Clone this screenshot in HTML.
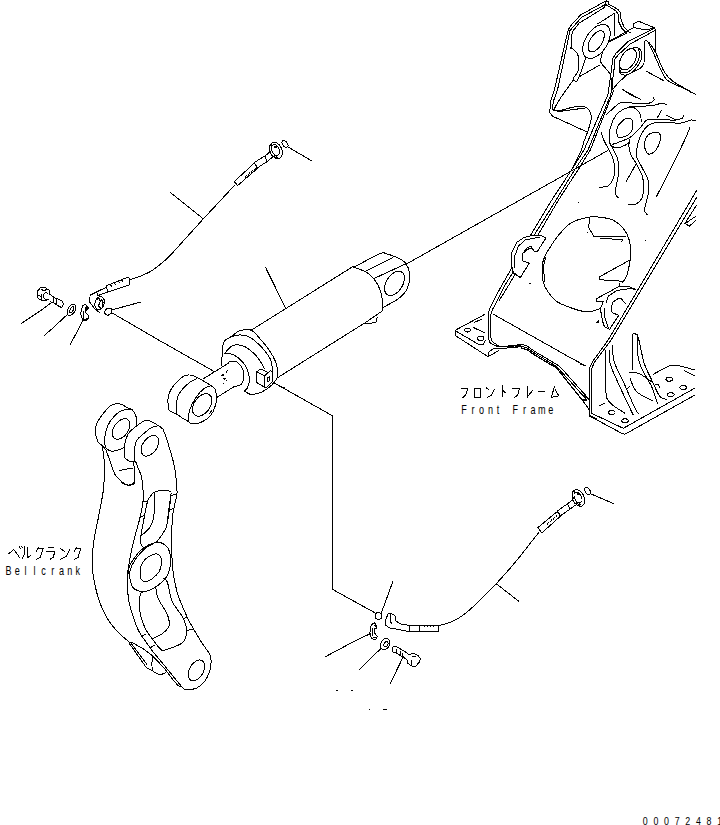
<!DOCTYPE html>
<html><head><meta charset="utf-8"><style>
html,body{margin:0;padding:0;background:#fff;width:720px;height:825px;overflow:hidden}
svg{display:block}
.t{font-family:"Liberation Mono",monospace;fill:#000}
</style></head><body>
<svg width="720" height="825" viewBox="0 0 720 825">
<g fill="none" stroke="#000" stroke-width="1" stroke-linejoin="round" stroke-linecap="round" shape-rendering="crispEdges">
<path d="M584.6,140 L587.5,132.2 L552.6,116.2 L549.7,112.3 L550.7,100.7 L554.4,90 L566.7,36 L568.3,29.4 L572.2,23.9 L580.6,15 L606.1,0.8 L608.9,1.7 L608.3,3.9 L617.8,9.4 L620,12.2 L621.1,20 L623.9,26.7 L627.8,31.1 L631,33"/>
<path d="M553.6,100.7 L552.1,109.4 L554.5,110.4 M553.6,100.7 L557.5,90 L568.9,36 L570,30.5 L581.7,17.2 L605.6,4.4 L606.1,0.8 M605.6,4.4 L616.1,11.1 L618.3,14.4 L618.9,22.2 L622.2,28.9 L626.7,33.3"/>
<path d="M571,49 L571.1,36.7 L573,31 L578.9,23.3 L603.9,7.8 L605.6,4.4"/>
<path d="M571.00,49.00 C571.00,48.75 569.92,46.71 571.00,47.50 C572.08,48.29 576.21,51.25 577.50,53.75 C578.79,56.25 578.62,59.67 578.75,62.50 C578.88,65.33 579.19,68.05 578.30,70.70 C577.41,73.35 573.97,76.72 573.40,78.40 C572.83,80.08 574.17,80.63 574.90,80.80 C575.63,80.97 576.12,82.87 577.80,79.40 C579.48,75.93 583.80,63.73 585.00,60.00 C586.20,56.27 585.00,57.50 585.00,57.00"/>
<path d="M573.00,80.30 C569.92,85.15 554.35,104.95 554.50,109.40 C554.65,113.85 569.05,107.48 573.90,107.00 C578.75,106.52 581.17,106.10 583.60,106.50 C586.03,106.90 587.20,107.78 588.50,109.40 C589.80,111.02 591.08,113.93 591.40,116.20 C591.72,118.47 591.05,120.33 590.40,123.00 C589.75,125.67 587.98,130.67 587.50,132.20"/>
<path d="M557.9,111.8 L584.6,108"/>
<path d="M578.8,77 L599.1,65.3"/>
<path d="M597.8,23.9 L614.4,13.3 L615,35.6"/>
<path d="M605.64,47.34 A10.90,19.00 33.0 1 1 587.36,35.46 A10.90,19.00 33.0 1 1 605.64,47.34 Z"/>
<path d="M601.29,44.48 A6.00,12.00 32.0 1 1 591.11,38.12 A6.00,12.00 32.0 1 1 601.29,44.48 Z"/>
<path d="M608.9,42.2 L626.7,33.3"/>
<path d="M602.50,52.50 C602.25,54.17 599.75,58.92 601.00,62.50 C602.25,66.08 608.08,69.42 610.00,74.00 C611.92,78.58 612.08,87.33 612.50,90.00"/>
<path d="M608.75,41.5 L619.4,35.7 L633.75,27.5 L633.75,23.75 L638.75,21.25 L655,28 L655.4,52.2"/>
<path d="M633.75,27.5 L645.7,29.9 L655,28"/>
<path d="M607.8,95 L611.7,68.75 L612.6,59 L615.6,53.7 L628.2,41.5 L654,28.4"/>
<path d="M610.7,95 L614.1,68.75 L615,59 L618,55.1 L630.1,44 L654.4,30.8"/>
<path d="M644.20,62.00 C644.28,58.75 644.13,45.92 644.70,42.50 C645.27,39.08 646.62,41.18 647.60,41.50 C648.58,41.82 649.20,42.45 650.60,44.40 C652.00,46.35 653.73,48.65 656.00,53.20 C658.27,57.75 661.45,67.07 664.20,71.70 C666.95,76.33 668.87,78.12 672.50,81.00 C676.13,83.88 682.75,87.00 686.00,89.00 C689.25,91.00 691.00,92.33 692.00,93.00"/>
<path d="M648.60,43.50 C649.57,45.43 651.97,49.92 654.40,55.10 C656.83,60.28 660.77,70.22 663.20,74.60 C665.63,78.98 664.95,78.83 669.00,81.40 C673.05,83.97 683.07,87.83 687.50,90.00 C691.93,92.17 694.25,93.67 695.60,94.40"/>
<path d="M646.2,71.2 L663.2,80.4"/>
<path d="M643.75,63.90 C643.26,64.55 642.42,66.50 640.80,67.80 C639.17,69.10 636.43,70.40 634.00,71.70 C631.57,73.00 629.03,73.50 626.20,75.60 C623.37,77.70 619.10,82.20 617.00,84.30 C614.90,86.40 614.17,87.55 613.60,88.20"/>
<path d="M622.4,89.2 L631.1,95"/>
<path d="M633.00,47.30 C633.83,47.42 636.67,47.38 638.00,48.00 C639.33,48.62 640.33,49.67 641.00,51.00 C641.67,52.33 642.17,54.17 642.00,56.00 C641.83,57.83 641.08,59.83 640.00,62.00 C638.92,64.17 637.00,67.17 635.50,69.00 C634.00,70.83 632.58,72.00 631.00,73.00 C629.42,74.00 627.50,74.75 626.00,75.00 C624.50,75.25 623.00,74.92 622.00,74.50 C621.00,74.08 620.42,73.58 620.00,72.50 C619.58,71.42 619.58,68.75 619.50,68.00"/>
<path d="M633.00,47.50 C633.75,47.50 636.50,46.92 637.50,47.50 C638.50,48.08 638.75,49.25 639.00,51.00 C639.25,52.75 639.33,56.00 639.00,58.00 C638.67,60.00 638.00,61.33 637.00,63.00 C636.00,64.67 634.50,66.50 633.00,68.00 C631.50,69.50 629.83,71.25 628.00,72.00 C626.17,72.75 623.33,72.83 622.00,72.50 C620.67,72.17 620.33,70.42 620.00,70.00"/>
<path d="M634.00,62.91 A7.00,11.70 31.0 1 1 622.00,55.69 A7.00,11.70 31.0 1 1 634.00,62.91 Z"/>
<path d="M607.8,95 L584,150 L572,169.2 L551.8,200 L530.9,234.7"/>
<path d="M610.7,95 L588,150 L575,169.2 L556.1,200 L534.5,234.7"/>
<path d="M613.9,90 L590.3,150 L578.5,169.2 L558.5,200 L538.2,234.7"/>
<path d="M587.5,132.2 L583.9,141.7 L581.5,150 L572,169.2"/>
<path d="M601.00,132.00 C601.46,133.33 601.77,135.62 603.75,140.00 C605.73,144.38 611.12,153.20 612.90,158.30 C614.67,163.40 614.40,167.03 614.40,170.60 C614.40,174.17 613.92,177.17 612.90,179.70 C611.88,182.23 610.58,184.52 608.30,185.80 C606.02,187.08 600.72,187.13 599.20,187.40"/>
<path d="M609.40,142.20 C610.75,144.88 615.90,153.57 617.50,158.30 C619.10,163.03 619.25,165.75 619.00,170.60 C618.75,175.45 616.63,183.58 616.00,187.40 C615.37,191.22 614.82,191.73 615.20,193.50 C615.58,195.27 617.78,197.25 618.30,198.00"/>
<path d="M606.70,114.40 C608.55,112.73 615.03,106.33 617.80,104.40 C620.57,102.47 618.30,102.98 623.30,102.80 C628.30,102.62 642.70,103.77 647.80,103.30 C652.90,102.83 652.98,101.02 653.90,100.00 C654.82,98.98 653.40,97.67 653.30,97.20"/>
<path d="M629.40,106.70 C633.20,106.52 646.92,106.17 652.20,105.60 C657.48,105.03 658.68,103.50 661.10,103.30 C663.52,103.10 665.77,104.22 666.70,104.40"/>
<path d="M623.3,90 L640.6,99.4"/>
<path d="M630,94.4 L640.6,99.4"/>
<path d="M609.40,142.20 C609.50,139.98 608.97,133.33 610.00,128.90 C611.03,124.47 613.38,118.85 615.60,115.60 C617.82,112.35 620.72,110.80 623.30,109.40 C625.88,108.00 628.87,107.20 631.10,107.20 C633.33,107.20 635.12,108.00 636.70,109.40 C638.28,110.80 639.87,113.47 640.60,115.60 C641.33,117.73 641.02,121.10 641.10,122.20"/>
<path d="M609.40,142.20 C609.68,142.77 609.88,144.67 611.10,145.60 C612.32,146.53 614.48,147.80 616.70,147.80 C618.92,147.80 622.28,146.53 624.40,145.60 C626.52,144.67 628.57,142.77 629.40,142.20"/>
<path d="M617.80,136.70 C616.60,135.22 616.65,130.22 617.20,127.80 C617.75,125.38 619.52,123.78 621.10,122.20 C622.68,120.62 624.93,118.77 626.70,118.30 C628.47,117.83 630.68,118.18 631.70,119.40 C632.72,120.62 632.90,123.47 632.80,125.60 C632.70,127.73 632.50,130.35 631.10,132.20 C629.70,134.05 626.62,135.95 624.40,136.70 C622.18,137.45 619.00,138.18 617.80,136.70 Z"/>
<path d="M612.20,144.40 C613.32,144.03 615.75,143.48 618.90,142.20 C622.05,140.92 627.40,139.28 631.10,136.70 C634.80,134.12 638.50,129.48 641.10,126.70 C643.70,123.92 644.48,121.22 646.70,120.00 C648.92,118.78 650.52,119.40 654.40,119.40 C658.28,119.40 666.40,119.90 670.00,120.00 C673.60,120.10 673.92,120.33 676.00,120.00 C678.08,119.67 681.33,118.83 682.50,118.00 C683.67,117.17 682.92,115.50 683.00,115.00"/>
<path d="M666,115 L676,120"/>
<path d="M630.00,139.00 C629.82,140.28 628.69,143.98 628.90,146.70 C629.11,149.42 630.10,152.60 631.25,155.30 C632.40,158.00 634.01,159.60 635.80,162.90 C637.59,166.20 640.72,171.28 642.00,175.10 C643.28,178.92 643.50,181.98 643.50,185.80 C643.50,189.62 643.28,194.93 642.00,198.00 C640.72,201.07 638.10,203.17 635.80,204.20 C633.50,205.23 629.47,204.20 628.20,204.20"/>
<path d="M647.30,214.90 C646.78,214.13 644.45,212.08 644.20,210.30 C643.95,208.52 645.03,207.52 645.80,204.20 C646.57,200.88 648.43,194.48 648.80,190.40 C649.17,186.32 649.13,183.52 648.00,179.70 C646.87,175.88 643.90,171.32 642.00,167.50 C640.10,163.68 637.48,159.72 636.60,156.80 C635.72,153.88 636.32,152.80 636.70,150.00 C637.08,147.20 637.42,143.70 638.90,140.00 C640.38,136.30 643.02,130.67 645.60,127.80 C648.18,124.93 650.33,123.63 654.40,122.80 C658.47,121.97 665.57,122.77 670.00,122.80 C674.43,122.83 677.50,123.47 681.00,123.00 C684.50,122.53 688.57,120.33 691.00,120.00 C693.43,119.67 694.83,120.83 695.60,121.00"/>
<path d="M630,175 L636,164"/>
<path d="M646.50,152.50 C645.50,150.67 644.25,145.92 644.50,143.00 C644.75,140.08 646.42,136.75 648.00,135.00 C649.58,133.25 652.08,132.75 654.00,132.50 C655.92,132.25 658.50,132.08 659.50,133.50 C660.50,134.92 660.58,138.25 660.00,141.00 C659.42,143.75 657.58,147.83 656.00,150.00 C654.42,152.17 652.08,153.58 650.50,154.00 C648.92,154.42 647.50,154.33 646.50,152.50 Z"/>
<path d="M657.2,117.8 L661.7,110"/>
<path d="M690.00,127.50 C689.12,129.58 688.03,132.92 684.70,140.00 C681.37,147.08 674.70,160.58 670.00,170.00 C665.30,179.42 658.75,192.08 656.50,196.50"/>
<path d="M687.5,90 L695.6,94.4"/>
<path d="M511.8,265.5 L511.8,252.1 L516.7,242.4 L523.9,237.6 L531.2,235.8 L540.9,235.2 L545.8,238.2 L537.3,251.5 L534.8,252.1 L531.2,246.7 L527.6,247.3 L522.1,254.5 L522.1,260.6 L529.4,263 L520.3,277.6 L513,272.7 L511.8,265.5"/>
<path d="M514.2,267.9 L514.8,255.8 L518.5,246.1 L525.2,240 L539.7,237"/>
<path d="M524,253 L529,248.5 L532,249"/>
<path d="M511.80,267.90 C510.17,270.75 505.13,279.32 502.00,285.00 C498.87,290.68 495.23,297.50 493.00,302.00 C490.77,306.50 489.37,308.17 488.60,312.00 C487.83,315.83 488.40,320.67 488.40,325.00 C488.40,329.33 488.33,335.08 488.60,338.00 C488.87,340.92 489.27,341.40 490.00,342.50 C490.73,343.60 491.63,343.90 493.00,344.60 C494.37,345.30 497.33,346.35 498.20,346.70"/>
<path d="M513.60,271.50 C512.00,274.08 506.93,281.75 504.00,287.00 C501.07,292.25 498.13,298.67 496.00,303.00 C493.87,307.33 492.07,309.33 491.20,313.00 C490.33,316.67 490.83,320.83 490.80,325.00 C490.77,329.17 490.72,335.25 491.00,338.00 C491.28,340.75 491.83,340.58 492.50,341.50 C493.17,342.42 493.88,342.70 495.00,343.50 C496.12,344.30 498.50,345.83 499.20,346.30"/>
<path d="M516,273 L507,288 L499.5,300"/><path d="M582.2,400 L588.9,408.9 L590,415.6 L596.7,418.9"/>
<path d="M485,314.2 L455.8,330 L455.8,335.8 L488,356.7 L488.8,352.2 L493.6,348.4 L499.9,348.4 M488,356.7 L498.5,350.8"/>
<path d="M456.5,331.5 L478.3,344.2 L483.3,344.2 L485.8,340"/>
<path d="M470.50,330.00 A3.00,2.00 0.0 1 1 464.50,330.00 A3.00,2.00 0.0 1 1 470.50,330.00 Z"/>
<path d="M484.00,338.30 A3.20,2.30 0.0 1 1 477.60,338.30 A3.20,2.30 0.0 1 1 484.00,338.30 Z"/>
<path d="M473.3,327.5 L484.2,332.5 M474.2,322.5 L481.7,319.2"/>
<path d="M498.2,346.7 L505.4,346.3 L515.2,345.3 L521.4,344.2 L526.3,345.6 L536,352.2 L556.7,364.4 L560,366.7 L587.8,397.8 L588.9,400"/>
<path d="M499.9,348.4 L506.8,348 L515.9,347.4 L521.4,346.3 L527,348 L536,354 L553.3,364.4 L557.8,367.8 L585.6,398.3"/>
<path d="M521.4,348 L527.7,350.1 L534.6,355 L552.2,365.6 L555.6,366.7 L582.2,400 L586.7,400 M507,346.8 L513.5,346.4 M516,346.2 L520,345.5" stroke-width="1.2"/>
<path d="M493.3,314.2 L570,357.5 L586,366"/>
<path d="M600.40,308.40 C598.46,308.97 592.57,311.53 588.75,311.80 C584.93,312.07 582.71,311.63 577.50,310.00 C572.29,308.37 562.38,304.98 557.50,302.00 C552.62,299.02 550.57,295.37 548.20,292.10 C545.83,288.83 544.32,286.63 543.30,282.40 C542.28,278.17 541.90,270.93 542.10,266.70 C542.30,262.47 543.35,259.95 544.50,257.00 C545.65,254.05 546.78,252.48 549.00,249.00 C551.22,245.52 554.15,240.43 557.80,236.10 C561.45,231.77 565.82,226.15 570.90,223.00 C575.98,219.85 583.45,218.17 588.30,217.20 C593.15,216.23 595.88,216.72 600.00,217.20 C604.12,217.68 609.12,218.25 613.00,220.10 C616.88,221.95 620.60,224.98 623.30,228.30 C626.00,231.62 627.95,235.55 629.20,240.00 C630.45,244.45 630.95,250.00 630.80,255.00 C630.65,260.00 628.98,266.53 628.30,270.00 C627.62,273.47 627.53,273.85 626.70,275.80 C625.87,277.75 623.87,280.72 623.30,281.70"/>
<path d="M545.50,258.00 C545.18,259.50 543.72,263.00 543.60,267.00 C543.48,271.00 544.60,279.50 544.80,282.00"/>
<path d="M589.5,218 L588.75,227.5 L593.75,236.25 L600,236.7 L625.8,236.7"/>
<path d="M600,238.5 L623,239.5"/>
<path d="M621,242 L623,240.5"/>
<path d="M612,270 L599.4,276.8 L599.4,279.7 L621.8,281.2 L622.8,282.2"/>
<path d="M599.4,276.8 L630,260"/>
<path d="M587.5,232.5 L587.8,232.8 M578.75,202.5 L579,202.8 M530,283.6 L530.3,283.9 M645.8,240.8 L646,241 M596.5,322.5 L598.5,320.8 L598.2,322.8 Z"/>
<path d="M619.9,283.6 L619.9,286 L596.5,298.7 L596.5,301.6 L603.3,301.6 L600.4,308.9 L602.4,320.6 L604.3,326.4 L609.2,329.3"/>
<path d="M619.9,286 L627.6,286 L635.4,289.4"/>
<path d="M606.2,302.1 L608.2,296.2 L616.9,290.4 L630.6,288.5 L635,289.5"/>
<path d="M604.8,308.9 L604.3,315.7 L608.2,327.4"/>
<path d="M625.7,304 L620.8,298.2 L617.9,298.7 L613.1,302.1 L611.1,306.9 L612.1,312.8 L618.9,315.2 L610.1,328.3"/>
<path d="M696.7,190.4 L608.2,340 L592.5,361.7 L589.2,368.3 L589.2,415.8 L621.7,433.3 L625,434.2 L695,395"/>
<path d="M696.7,197.5 L611.1,340 L594,363 L591.7,369 L591.7,413.3 L623.3,428.3 L695,388"/>
<path d="M696.7,205 L685,223.3 L689.2,226.25 L695.8,220.4 M695.8,216.25 L686,223 L684,223.5"/>
<path d="M580,364.2 L585.8,365.8 M580,392.5 L588.3,399.2"/>
<path d="M605.80,350.00 C605.80,356.95 604.97,382.82 605.80,391.70 C606.63,400.58 607.60,399.70 610.80,403.30 C614.00,406.90 622.63,411.63 625.00,413.30"/>
<path d="M609.20,350.00 C609.33,352.22 608.48,357.75 610.00,363.30 C611.52,368.85 614.97,375.80 618.30,383.30 C621.63,390.80 627.50,403.02 630.00,408.30 C632.50,413.58 632.75,413.88 633.30,415.00"/>
<path d="M612.50,345.80 C612.78,348.45 612.40,355.72 614.20,361.70 C616.00,367.68 619.83,373.93 623.30,381.70 C626.77,389.47 632.50,403.03 635.00,408.30 C637.50,413.57 637.75,412.47 638.30,413.30"/>
<path d="M632.50,370.00 C632.50,364.45 631.95,342.67 632.50,336.70 C633.05,330.73 634.83,334.07 635.80,334.20 C636.77,334.33 636.90,332.65 638.30,337.50 C639.70,342.35 641.97,356.22 644.20,363.30 C646.43,370.38 649.07,374.43 651.70,380.00 C654.33,385.57 657.50,393.50 660.00,396.70 C662.50,399.90 665.58,398.78 666.70,399.20"/>
<path d="M637.00,336.00 C637.22,339.72 637.25,352.35 638.30,358.30 C639.35,364.25 641.07,366.97 643.30,371.70 C645.53,376.43 649.33,381.43 651.70,386.70 C654.07,391.97 656.53,400.53 657.50,403.30"/>
<path d="M629.20,372.50 C630.72,372.63 635.38,372.33 638.30,373.30 C641.22,374.27 644.42,376.85 646.70,378.30 C648.98,379.75 651.12,381.38 652.00,382.00"/>
<path d="M630.00,378.30 C631.12,380.53 632.95,387.95 636.70,391.70 C640.45,395.45 649.87,399.28 652.50,400.80"/>
<path d="M627.5,388.3 L630,386.5 M599.2,405.8 L604.2,403.3"/>
<path d="M653.3,374.2 L670.8,365 L676.7,365 L695,370 M684.2,370.8 L695,375.8"/>
<path d="M615.00,412.50 A3.30,2.00 0.0 1 1 608.40,412.50 A3.30,2.00 0.0 1 1 615.00,412.50 Z"/>
<path d="M628.30,420.80 A3.30,2.00 0.0 1 1 621.70,420.80 A3.30,2.00 0.0 1 1 628.30,420.80 Z"/>
<path d="M672.50,379.20 A3.30,2.00 0.0 1 1 665.90,379.20 A3.30,2.00 0.0 1 1 672.50,379.20 Z"/>
<path d="M686.60,387.50 A3.30,2.00 0.0 1 1 680.00,387.50 A3.30,2.00 0.0 1 1 686.60,387.50 Z"/>
<path d="M674.10,394.70 A3.30,2.00 0.0 1 1 667.50,394.70 A3.30,2.00 0.0 1 1 674.10,394.70 Z"/>
<path d="M655.5,385 L658,384.5 L659.5,387"/>
<path d="M635.8,164.4 L625.9,182"/>
<path d="M250.3,330.8 L353.3,266.3"/>
<path d="M277.4,377.8 L365.8,322.3 L382.5,310.8"/>
<path d="M353.30,267.00 C355.75,268.05 363.83,270.17 368.00,273.30 C372.17,276.43 375.88,281.28 378.30,285.80 C380.72,290.32 381.80,296.23 382.50,300.40 C383.20,304.57 382.50,309.07 382.50,310.80"/>
<path d="M355.00,266.50 C359.23,264.33 375.30,255.67 380.40,253.50 C385.50,251.33 382.67,252.75 385.60,253.50 C388.53,254.25 394.70,256.42 398.00,258.00 C401.30,259.58 403.47,260.45 405.40,263.00 C407.33,265.55 409.25,269.13 409.60,273.30 C409.95,277.47 409.27,283.83 407.50,288.00 C405.73,292.17 403.17,295.02 399.00,298.30 C394.83,301.58 385.25,306.13 382.50,307.70"/>
<path d="M401.45,287.75 A8.20,13.20 32.0 1 1 387.55,279.05 A8.20,13.20 32.0 1 1 401.45,287.75 Z"/>
<path d="M365.8,271 L393,257.7 M374,278.5 L405.4,264"/>
<path d="M406.5,264 L607.2,150.8"/>
<path d="M363.75,323.3 L370,323.5 L376,322 L377.3,317"/>
<path d="M265.4,267.1 L285.7,308.3"/>
<path d="M221.80,366.00 C221.80,365.02 221.72,362.05 221.80,360.10 C221.88,358.15 222.13,356.57 222.30,354.30 C222.47,352.03 222.40,348.77 222.80,346.50 C223.20,344.23 223.08,342.48 224.70,340.70 C226.32,338.92 230.07,337.42 232.50,335.80 C234.93,334.18 236.22,331.97 239.30,331.00 C242.38,330.03 247.27,328.38 251.00,330.00 C254.73,331.62 258.63,337.30 261.70,340.70 C264.77,344.10 267.13,347.00 269.40,350.40 C271.67,353.80 273.92,357.70 275.30,361.10 C276.68,364.50 277.38,368.05 277.70,370.80 C278.02,373.55 278.08,375.33 277.20,377.60 C276.32,379.87 274.18,382.45 272.40,384.40 C270.62,386.35 268.77,387.83 266.50,389.30 C264.23,390.77 261.50,392.38 258.75,393.20 C256.00,394.02 252.43,394.68 250.00,394.20 C247.57,393.72 245.17,390.95 244.20,390.30"/>
<path d="M232.50,336.30 C233.80,336.07 237.55,334.82 240.30,334.90 C243.05,334.98 246.25,335.52 249.00,336.80 C251.75,338.08 254.37,340.50 256.80,342.60 C259.23,344.70 261.33,346.63 263.60,349.40 C265.87,352.17 268.93,355.95 270.40,359.20 C271.87,362.45 272.07,366.93 272.40,368.90 C272.73,370.87 272.40,370.65 272.40,371.00"/>
<path d="M224.70,353.30 C226.00,352.02 229.58,346.88 232.50,345.60 C235.42,344.32 239.45,344.97 242.20,345.60 C244.95,346.23 246.73,347.78 249.00,349.40 C251.27,351.02 253.85,353.18 255.80,355.30 C257.75,357.42 259.23,359.83 260.70,362.10 C262.17,364.37 263.95,367.77 264.60,368.90"/>
<path d="M224.70,353.80 C225.68,353.80 228.48,353.23 230.60,353.80 C232.72,354.37 235.13,355.50 237.40,357.20 C239.67,358.90 242.43,361.57 244.20,364.00 C245.97,366.43 247.12,369.03 248.00,371.80 C248.88,374.57 249.65,377.85 249.50,380.60 C249.35,383.35 247.98,386.53 247.10,388.30 C246.22,390.07 244.68,390.76 244.20,391.25"/>
<path d="M228.60,362.10 C229.57,361.93 232.62,360.78 234.40,361.10 C236.18,361.42 237.83,362.38 239.30,364.00 C240.77,365.62 242.47,368.37 243.20,370.80 C243.93,373.23 244.02,376.33 243.70,378.60 C243.38,380.87 242.72,383.10 241.25,384.40 C239.78,385.70 235.96,386.07 234.90,386.40"/>
<path d="M256.8,371.8 L256.8,382.5 L264.6,387.4 L264.6,375.7 L256.8,371.8 L260.7,369 L268,372.5 M264.6,375.7 L270.4,370.8 L272.4,371.8 L272.4,381.5 L266.5,387.4 L264.6,387.4"/>
<path d="M267.3,377.8 L269.5,377 L270,380.5 L268,382 L267,380 Z"/>
<path d="M273.3,382.5 L285,388.3"/>
<path d="M202.8,379.1 L228.6,363.1"/>
<path d="M217.4,397.1 L234.4,386.4"/>
<path d="M226.5,372 l0.6,-1.2 M221.8,375 l1.2,-0.6 l0.3,1 l-1.2,0.5 z M223.8,378 l0.4,1.2 l1.2,-0.5 M226.5,380.5 l0.6,-0.6 M222.8,384 l0.8,-0.4" stroke-width="1.1"/>
<path d="M168.30,406.80 C168.05,404.37 167.73,399.18 168.30,396.10 C168.87,393.02 170.15,390.73 171.70,388.30 C173.25,385.87 175.48,383.60 177.60,381.50 C179.72,379.40 182.13,376.75 184.40,375.70 C186.67,374.65 189.10,374.88 191.20,375.20 C193.30,375.52 195.07,376.70 197.00,377.60 C198.93,378.50 200.53,379.30 202.80,380.60 C205.07,381.90 208.57,383.95 210.60,385.40 C212.63,386.85 214.03,387.52 215.00,389.30 C215.97,391.08 216.23,393.83 216.40,396.10 C216.57,398.37 216.57,400.30 216.00,402.90 C215.43,405.50 214.22,409.27 213.00,411.70 C211.78,414.13 210.40,415.88 208.70,417.50 C207.00,419.12 204.58,420.43 202.80,421.40 C201.02,422.37 199.93,422.98 198.00,423.30 C196.07,423.62 192.82,423.62 191.20,423.30 C189.57,422.98 189.88,422.37 188.25,421.40 C186.62,420.43 183.18,418.63 181.40,417.50 C179.62,416.37 179.53,415.73 177.60,414.60 C175.67,413.47 171.35,412.00 169.80,410.70 C168.25,409.40 168.55,409.23 168.30,406.80 Z"/>
<path d="M176.60,413.60 C176.52,412.30 175.87,408.72 176.10,405.80 C176.33,402.88 176.95,398.85 178.00,396.10 C179.05,393.35 180.37,391.65 182.40,389.30 C184.43,386.95 187.77,383.78 190.20,382.00 C192.63,380.22 195.87,379.17 197.00,378.60"/>
<path d="M188.5,421 A10.8,23.2 28 0 1 211.6,385.9"/>
<path d="M208.75,409.49 A8.00,12.20 35.0 1 1 195.65,400.31 A8.00,12.20 35.0 1 1 208.75,409.49 Z"/>
<path d="M209.5,413.5 L212,410.5"/>
<path d="M160,340.8 L214.2,371.5"/>
<path d="M95.50,434.25 C95.60,432.79 95.37,428.21 96.10,425.50 C96.83,422.79 97.82,421.02 99.90,418.00 C101.98,414.98 106.32,409.69 108.60,407.40 C110.88,405.11 111.52,404.77 113.60,404.25 C115.68,403.73 118.91,403.73 121.10,404.25 C123.29,404.77 124.87,406.46 126.75,407.40 C128.63,408.34 130.84,408.34 132.40,409.90 C133.96,411.46 135.38,414.36 136.10,416.75 C136.82,419.14 136.64,423.00 136.75,424.25"/>
<path d="M124.90,446.75 C124.17,447.17 122.69,448.52 120.50,449.25 C118.31,449.98 114.25,451.52 111.75,451.10 C109.25,450.68 106.54,449.77 105.50,446.75 C104.46,443.73 104.77,437.17 105.50,433.00 C106.23,428.83 107.61,425.29 109.90,421.75 C112.19,418.21 116.23,413.83 119.25,411.75 C122.27,409.67 125.81,409.56 128.00,409.25 C130.19,408.94 131.67,409.79 132.40,409.90"/>
<path d="M127.00,433.13 A7.20,11.50 35.0 1 1 115.20,424.87 A7.20,11.50 35.0 1 1 127.00,433.13 Z"/>
<path d="M95.50,434.25 C95.92,435.50 96.96,439.88 98.00,441.75 C99.04,443.62 100.92,444.04 101.75,445.50 C102.58,446.96 102.58,447.58 103.00,450.50 C103.42,453.42 104.15,456.75 104.25,463.00 C104.35,469.25 104.49,479.35 103.60,488.00 C102.71,496.65 100.53,506.07 98.90,514.90 C97.27,523.73 94.88,533.73 93.80,541.00 C92.72,548.27 92.52,552.92 92.40,558.50 C92.28,564.08 92.02,567.58 93.10,574.50 C94.18,581.42 96.58,592.75 98.90,600.00 C101.22,607.25 104.55,613.47 107.00,618.00 C109.45,622.53 111.27,624.37 113.60,627.20 C115.93,630.03 118.42,632.53 121.00,635.00 C123.58,637.47 127.75,640.83 129.10,642.00"/>
<path d="M101.75,445.50 C102.47,446.33 104.02,445.92 106.10,450.50 C108.18,455.08 112.27,468.42 114.25,473.00 C116.23,477.58 116.12,476.12 118.00,478.00 C119.88,479.88 123.21,483.10 125.50,484.25 C127.79,485.40 130.18,485.52 131.75,484.90 C133.32,484.27 134.59,484.36 134.90,480.50 C135.21,476.64 133.82,464.88 133.60,461.75"/>
<path d="M119.25,470.5 L133,468"/>
<path d="M120.70,480.00 C120.95,480.48 120.87,482.05 122.20,482.90 C123.53,483.75 126.77,485.10 128.70,485.10 C130.63,485.10 132.83,483.75 133.80,482.90 C134.77,482.05 134.38,480.48 134.50,480.00"/>
<path d="M124.90,458.00 C124.79,456.33 123.73,451.96 124.25,448.00 C124.77,444.04 126.12,437.79 128.00,434.25 C129.88,430.71 132.58,429.04 135.50,426.75 C138.42,424.46 142.79,421.33 145.50,420.50 C148.21,419.67 149.67,420.92 151.75,421.75 C153.83,422.58 156.12,424.25 158.00,425.50 C159.88,426.75 162.17,428.62 163.00,429.25"/>
<path d="M134.25,460.50 C134.25,458.83 133.83,453.83 134.25,450.50 C134.67,447.17 135.29,443.21 136.75,440.50 C138.21,437.79 140.50,436.43 143.00,434.25 C145.50,432.07 149.04,428.76 151.75,427.40 C154.46,426.04 157.38,425.79 159.25,426.10 C161.12,426.41 162.38,428.73 163.00,429.25"/>
<path d="M155.80,449.93 A7.20,11.50 35.0 1 1 144.00,441.67 A7.20,11.50 35.0 1 1 155.80,449.93 Z"/>
<path d="M163.00,429.25 C163.62,430.92 165.08,434.04 166.75,439.25 C168.42,444.46 171.54,454.88 173.00,460.50 C174.46,466.12 174.88,468.42 175.50,473.00 C176.12,477.58 176.55,484.17 176.75,488.00 C176.95,491.83 177.44,490.80 176.70,496.00 C175.96,501.20 173.03,507.82 172.30,519.20 C171.57,530.58 171.57,552.42 172.30,564.30 C173.03,576.18 175.33,584.27 176.70,590.50 C178.07,596.73 178.72,597.18 180.50,601.70 C182.28,606.22 185.20,612.98 187.40,617.60 C189.60,622.22 191.38,625.35 193.70,629.40 C196.02,633.45 198.63,637.73 201.30,641.90 C203.97,646.07 208.07,651.15 209.70,654.40 C211.33,657.65 211.10,658.62 211.10,661.40 C211.10,664.18 210.87,667.63 209.70,671.10 C208.53,674.57 206.42,679.30 204.10,682.20 C201.78,685.10 198.82,687.22 195.80,688.50 C192.78,689.78 187.63,689.67 186.00,689.90"/>
<path d="M124.90,458.00 C125.83,458.62 128.73,461.12 130.50,461.75 C132.27,462.38 134.25,460.71 135.50,461.75 C136.75,462.79 136.96,465.29 138.00,468.00 C139.04,470.71 140.88,472.85 141.75,478.00 C142.62,483.15 143.44,492.52 143.20,498.90 C142.96,505.28 141.75,509.77 140.30,516.30 C138.85,522.83 136.18,531.32 134.50,538.10 C132.82,544.88 131.42,550.22 130.20,557.00 C128.98,563.78 127.45,571.63 127.20,578.80 C126.95,585.97 127.92,594.33 128.70,600.00 C129.48,605.67 130.27,607.70 131.90,612.80 C133.53,617.90 136.38,626.07 138.50,630.60 C140.62,635.13 142.32,636.65 144.60,640.00 C146.88,643.35 149.80,647.53 152.20,650.70 C154.60,653.87 156.70,656.20 159.00,659.00 C161.30,661.80 162.42,663.15 166.00,667.50 C169.58,671.85 177.20,681.40 180.50,685.10 C183.80,688.80 183.25,689.13 185.80,689.70 C188.35,690.27 194.13,688.70 195.80,688.50"/>
<path d="M156.30,542.50 C157.52,540.80 161.78,535.45 163.60,532.30 C165.42,529.15 166.00,529.65 167.20,523.60 C168.40,517.55 170.32,501.33 170.80,496.00 C171.28,490.67 171.30,492.57 170.10,491.60 C168.90,490.63 166.27,490.07 163.60,490.20 C160.93,490.33 156.40,491.20 154.10,492.40 C151.80,493.60 150.88,495.95 149.80,497.40 C148.72,498.85 148.57,497.58 147.60,501.10 C146.63,504.62 145.10,512.82 144.00,518.50 C142.90,524.18 141.50,530.95 141.00,535.20 C140.50,539.45 140.50,541.93 141.00,544.00 C141.50,546.07 143.50,547.00 144.00,547.60"/>
<path d="M154.10,492.40 C154.10,495.90 154.70,507.72 154.10,513.40 C153.50,519.08 152.55,522.87 150.50,526.50 C148.45,530.13 143.25,533.75 141.80,535.20"/>
<path d="M170.80,496.00 C170.45,498.42 169.30,505.90 168.70,510.50 C168.10,515.10 167.45,521.42 167.20,523.60"/>
<path d="M142.5,501.8 L147.6,501.1 M140.3,517 L144.7,515.6 M171,495.3 L176,494.6 M168.7,510.5 L173,508.5"/>
<path d="M131.60,584.70 C130.63,581.55 128.45,574.23 128.70,570.10 C128.95,565.97 130.68,563.53 133.10,559.90 C135.52,556.27 139.33,551.20 143.20,548.30 C147.07,545.40 152.67,543.10 156.30,542.50 C159.93,541.90 162.82,543.25 165.00,544.70 C167.18,546.15 168.43,548.42 169.40,551.20 C170.37,553.98 171.05,557.52 170.80,561.40 C170.55,565.28 169.58,570.87 167.90,574.50 C166.22,578.13 163.35,580.78 160.70,583.20 C158.05,585.62 154.92,587.55 152.00,589.00 C149.08,590.45 146.12,591.90 143.20,591.90 C140.28,591.90 136.43,590.20 134.50,589.00 C132.57,587.80 132.57,587.85 131.60,584.70 Z"/>
<path d="M130.20,581.70 C130.20,579.77 129.23,573.97 130.20,570.10 C131.17,566.23 133.35,562.25 136.00,558.50 C138.65,554.75 143.20,550.02 146.10,547.60 C149.00,545.18 152.18,544.60 153.40,544.00"/>
<path d="M141.00,578.80 C140.15,577.60 140.30,576.67 140.30,574.50 C140.30,572.33 140.03,568.47 141.00,565.80 C141.97,563.13 143.78,560.45 146.10,558.50 C148.42,556.55 152.60,554.58 154.90,554.10 C157.20,553.62 158.82,554.15 159.90,555.60 C160.98,557.05 161.52,560.13 161.40,562.80 C161.28,565.47 160.77,568.93 159.20,571.60 C157.63,574.27 154.30,577.12 152.00,578.80 C149.70,580.48 147.23,581.70 145.40,581.70 C143.57,581.70 141.85,580.00 141.00,578.80 Z"/>
<path d="M155.50,586.40 C155.97,588.48 156.45,594.50 158.30,598.90 C160.15,603.30 164.75,608.87 166.60,612.80 C168.45,616.73 169.17,619.97 169.40,622.50 C169.63,625.03 169.17,626.15 168.00,628.00 C166.83,629.85 165.05,631.80 162.40,633.60 C159.75,635.40 153.82,637.93 152.10,638.80"/>
<path d="M143.20,591.90 C142.70,592.37 140.82,592.38 140.20,594.70 C139.58,597.02 139.38,602.08 139.50,605.80 C139.62,609.52 139.85,613.07 140.90,617.00 C141.95,620.93 143.78,625.57 145.80,629.40 C147.82,633.23 150.40,636.57 153.00,640.00 C155.60,643.43 159.37,648.33 161.40,650.00 C163.43,651.67 161.78,651.12 165.20,650.00 C168.62,648.88 178.43,645.57 181.90,643.30 C185.37,641.03 185.19,638.72 186.00,636.40 C186.81,634.08 187.20,632.42 186.75,629.40 C186.30,626.38 185.04,621.87 183.30,618.30 C181.56,614.73 178.25,611.05 176.30,608.00 C174.35,604.95 173.12,604.38 171.60,600.00 C170.08,595.62 168.65,585.35 167.20,581.70 C165.75,578.05 163.62,578.70 162.90,578.10"/>
<path d="M142.4,635.4 L145.8,634.4 M150.7,647.6 L154.9,645 M183.3,618.3 L187.4,617.6 M186.75,630.5 L193.7,629.2"/>
<path d="M129.2,642.7 L132.6,642.6 L140,647 L144.6,649.7 L151.5,655 L158,661.5 L165.2,669.5 L172,678.5 L178.2,685.8 L181.25,686.6"/>
<path d="M129.2,643.2 L146.25,667.5 L152.1,670.4"/>
<path d="M131.2,643.3 L147,664.5"/>
<path d="M152.20,655.30 C152.20,657.58 151.68,666.08 152.20,669.00 C152.72,671.92 153.90,671.90 155.30,672.80 C156.70,673.70 158.95,674.40 160.60,674.40 C162.25,674.40 164.23,673.25 165.20,672.80 C166.17,672.35 166.20,671.88 166.40,671.70"/>
<path d="M202.46,673.90 A7.00,11.00 30.0 1 1 190.34,666.90 A7.00,11.00 30.0 1 1 202.46,673.90 Z"/>
<path d="M130.50,279.50 C132.42,278.83 138.57,276.90 142.00,275.50 C145.43,274.10 148.10,272.93 151.10,271.10 C154.10,269.27 157.03,266.90 160.00,264.50 C162.97,262.10 164.57,261.12 168.90,256.70 C173.23,252.28 180.27,244.30 186.00,238.00 C191.73,231.70 197.63,225.07 203.30,218.90 C208.97,212.73 214.75,206.65 220.00,201.00 C225.25,195.35 232.33,187.67 234.80,185.00"/>
<path d="M203.3,218.9 L170,192.2"/>
<path d="M234.3,181.6 L254.25,163.1 M237.7,185.5 L257.2,168.5 M234.3,181.6 L237.7,185.5"/>
<path d="M254.25,163.1 L256.5,166 L257.2,168.5"/>
<path d="M245.5,177 l1,-1.5 M248.5,174.5 l1,-1.5 M251.5,172 l1,-1.5 M254.5,170 l1,-1.5"/>
<path d="M254.25,162.6 L265,155.8 L266.9,161.7 L257.2,168"/>
<path d="M265,155.8 L270.8,151.4 M266.9,161.7 L274.7,155.3"/>
<path d="M281.34,147.96 A6.00,8.50 -25.0 1 1 270.46,153.04 A6.00,8.50 -25.0 1 1 281.34,147.96 Z"/>
<path d="M278.76,148.48 A3.60,5.50 -25.0 1 1 272.24,151.52 A3.60,5.50 -25.0 1 1 278.76,148.48 Z"/>
<path d="M286.97,142.62 A2.40,3.80 -35.0 1 1 283.03,145.38 A2.40,3.80 -35.0 1 1 286.97,142.62 Z"/>
<path d="M287.3,146.6 L311.25,160.6"/>
<path d="M438.50,625.60 C440.42,625.08 446.08,624.10 450.00,622.50 C453.92,620.90 457.83,618.92 462.00,616.00 C466.17,613.08 469.50,610.17 475.00,605.00 C480.50,599.83 488.33,592.08 495.00,585.00 C501.67,577.92 508.60,570.12 515.00,562.50 C521.40,554.88 529.44,544.30 533.40,539.30 C537.36,534.30 537.86,533.63 538.75,532.50"/>
<path d="M496.25,583.75 L518.75,601.25"/>
<path d="M537.8,527.6 L557.2,511.6 M541.7,533 L560.1,516.5 M537.8,527.6 L541.7,533"/>
<path d="M557.2,511.6 L559.5,514 L560.1,516.5"/>
<path d="M547.5,524 l1,-1.5 M550.5,521.5 l1,-1.5 M553.5,519 l1,-1.5 M556,517 l1,-1.5"/>
<path d="M557.2,511.1 L567.4,503.8 L569.9,509.2 L560.1,516"/>
<path d="M567.4,503.8 L572.8,499.9 M569.9,509.2 L576.7,504.3"/>
<path d="M583.66,495.55 A5.80,8.80 -25.0 1 1 573.14,500.45 A5.80,8.80 -25.0 1 1 583.66,495.55 Z"/>
<path d="M581.08,496.06 A3.40,5.80 -25.0 1 1 574.92,498.94 A3.40,5.80 -25.0 1 1 581.08,496.06 Z"/>
<path d="M589.57,489.62 A2.40,4.00 -35.0 1 1 585.63,492.38 A2.40,4.00 -35.0 1 1 589.57,489.62 Z"/>
<path d="M590.3,493.6 L613.75,503.75"/>
<path d="M273.6,382.6 L332.3,415.7 L332.3,589.2 L376.6,613.75"/>
<path d="M38,290.4 L41.1,287.1 L44.7,287.1 L47.3,289.1 L49.6,290.4 L49.8,294 M38,290.4 L37.6,292.2 L37.3,297.1 L39.3,299.3 L41.6,300.2 L45.6,300.2 L48.7,299.8"/>
<path d="M41.1,294.4 L41.1,299.8 M37.6,295.3 L41.1,296.2 M41.5,289.5 L44,290.8 L47.3,289.1"/>
<path d="M47.30,293.10 C46.93,293.03 45.68,292.48 45.10,292.70 C44.52,292.92 44.05,293.67 43.80,294.40 C43.55,295.13 43.38,296.35 43.60,297.10 C43.82,297.85 44.25,298.45 45.10,298.90 C45.95,299.35 48.10,299.65 48.70,299.80"/>
<path d="M49.6,294 L54.4,297.6 L60.7,300.2 M50,301.6 L54.4,303.3 L59.8,306.9"/>
<path d="M60.70,300.20 C60.98,300.43 61.97,300.93 62.40,301.60 C62.83,302.27 63.37,303.32 63.30,304.20 C63.23,305.08 62.58,306.45 62.00,306.90 C61.42,307.35 60.17,306.90 59.80,306.90"/>
<path d="M53.5,298.5 L53.5,302.8 M56.7,299.5 L56.7,304.6"/>
<path d="M21,323.75 L42,309.6 L52.2,302"/>
<path d="M74.62,311.60 A3.60,6.20 30.0 1 1 68.38,308.00 A3.60,6.20 30.0 1 1 74.62,311.60 Z"/>
<path d="M73.10,310.35 A1.50,3.40 30.0 1 1 70.50,308.85 A1.50,3.40 30.0 1 1 73.10,310.35 Z"/>
<path d="M43.75,336 L53.3,327.6 L67.4,314.5"/>
<path d="M82.3,306.25 L81.5,310.4 L80.7,313.75 L82.3,319.2 L84,320.4 L86.5,320.4 L88.6,317.9 L88.2,315.4 L85.25,312.5 L85.7,307.5 L87.75,307.5 L88.6,308.3 L85.25,304.2 Z M83.6,311.25 L83.6,318.3"/>
<path d="M85.5,308 L87.5,308.5 L86,310 Z M83.5,319.5 L86.5,319.5 L87.5,318.5" stroke-width="1.5"/>
<path d="M70,344.5 L78.2,330 L82.75,320.8"/>
<path d="M105.9,286 L127.8,277.2 L129.6,278.8 L129.2,285 L108.3,291.8 M105.9,286 L108.3,291.8"/>
<path d="M110,284.5 l2,1.8 M114,283 l2,1.8 M118,281.2 l2,1.8 M121,279.8 l2,1.8"/>
<path d="M90.2,295.2 L96.4,292.1 L105.9,287.4 M97.5,295.8 L108.3,291.7 M96.8,292.5 L98.5,295.8"/>
<path d="M89.3,297.1 L89.3,301.7 L94.3,308.3 L99.3,312.5"/>
<path d="M104.04,304.19 A4.60,6.30 15.0 1 1 95.16,301.81 A4.60,6.30 15.0 1 1 104.04,304.19 Z"/>
<path d="M96.5,299.5 L99,298.5 L100.5,301 L99,304 L98.5,306.5 L101,308 M101.5,299.5 L103,302 L102.5,305" stroke-width="1.3"/>
<path d="M104.9,311 L107,308 L111.3,308.5 L111.7,313 L107.5,315.6 L104.9,313.5 Z"/>
<path d="M112.2,309.8 L140.9,302"/>
<path d="M111.7,312.7 L160,340.8"/>
<circle cx="378.5" cy="616" r="3.4"/>
<path d="M381.4,612.8 L392.7,581.9"/>
<path d="M388.25,613.75 L391.2,613.3 L395,615.7 L396,621 L400.9,624 L406.7,625 L438.5,625 M385.3,620.6 L385.8,625.4 L390.2,628.3 L398,629.3 L406.7,631.25 L438.5,631.25 L438.5,625"/>
<path d="M388.25,613.75 L385.3,620.6 M390,614 L390,621 L392,624"/>
<path d="M409.6,625 L409.6,631.25 M419.5,625.5 L419.5,630.5 M424,625 l0,1.5 M427,625 l0,1.5 M430,625 l0,1.5 M433,625 l0,1.5"/>
<path d="M371.5,624.5 L370.5,628 L369.8,633.2 L371.5,638 L373.5,639.3 L376.6,639 L377.2,636.5 L374.5,633 L374.5,629 L376.5,628 L377,626 L374.5,623 Z M372.5,628 L372.5,636"/><path d="M374.8,625.5 L376,626.5 M374,637.5 L376,637.5" stroke-width="1.5"/>
<path d="M325,656.9 L356.8,640 L370.3,633.7"/>
<path d="M388.91,646.30 A4.40,5.80 30.0 1 1 381.29,641.90 A4.40,5.80 30.0 1 1 388.91,646.30 Z"/>
<path d="M387.55,645.25 A1.90,2.80 30.0 1 1 384.25,643.35 A1.90,2.80 30.0 1 1 387.55,645.25 Z"/>
<path d="M358.9,669.9 L381.1,648.3"/>
<path d="M397,647 L404,651 L409,654.5 M396,653 L402,656.5 L407,659.5"/><path d="M397.00,647.00 C396.75,646.88 396.17,646.25 395.50,646.25 C394.83,646.25 393.50,646.21 393.00,647.00 C392.50,647.79 392.33,650.08 392.50,651.00 C392.67,651.92 393.42,652.17 394.00,652.50 C394.58,652.83 395.67,652.92 396.00,653.00"/>
<path d="M396.5,649 L396.5,653 M400,651 L400,655.5 M402.5,653.5 L402.5,657"/>
<path d="M409,654.5 L412.5,653.5 L415,654 L418,655.5 L420.5,658.5 L419,662.5 L416,666 L411.5,666 L408,663.5 L407,660 M412,656 L415.5,656.5 M411.5,661 L411,665.5"/>
<path d="M390.1,683.75 L403.3,656.7"/>
<path d="M336.7,690.7 l0.5,0 M351.7,690.7 l0.5,0 M369.3,709.4 l0.5,0 M383.6,709.4 l2.5,0"/>
<g fill="#000" stroke="none">
<circle cx="271.5" cy="145.5" r="1.1"/><circle cx="275.5" cy="147" r="1.3"/><circle cx="270.5" cy="151.5" r="0.9"/><circle cx="276.5" cy="157.5" r="1.2"/><circle cx="274.5" cy="156.5" r="0.9"/>
<circle cx="574.5" cy="492" r="1.1"/><circle cx="578.5" cy="494" r="1.3"/><circle cx="573.5" cy="498" r="0.9"/><circle cx="579.5" cy="504.5" r="1.2"/><circle cx="577" cy="503" r="0.9"/>
</g>
<g transform="scale(0.72,1)"><text font-family="Liberation Sans" fill="#000" stroke="none" font-size="12.6" text-anchor="middle" x="644.44 656.94 668.75 681.25 691.53 715.56 728.61 740.42 752.36 765.00" y="413.75">FrontFrame</text></g>
<g transform="scale(0.72,1)"><text font-family="Liberation Sans" fill="#000" stroke="none" font-size="12.6" text-anchor="middle" x="11.81 24.03 35.42 47.92 60.42 73.33 85.56 96.81 108.06" y="574.7">Bellcrank</text></g>
<g transform="scale(0.75,1)"><text font-family="Liberation Sans" fill="#000" stroke="none" font-size="11.8" text-anchor="middle" x="860.33 874.53 888.67 902.80 917.00 931.20 945.33 959.47" y="824.7" stroke="#000" stroke-width="0.35">00072481</text></g>
<path d="M461.25,388.3 L467.9,388.3 L465.8,395 L462.9,397.5"/>
<path d="M474.2,388.3 L480.4,388.3 L480.4,397.5 L474.2,397.5 Z"/>
<path d="M486.25,387.9 L488.75,389.6 M487.1,397.5 L490.8,395.8 L494.6,389.2"/>
<path d="M502.5,385.4 L502.5,396.7 M503.3,390.8 L505,392.5"/>
<path d="M512.1,388.3 L519.6,388.3 L517.5,395.4 L514.2,397.5"/>
<path d="M527.1,386.25 L527.1,397.5 L532.5,390.4"/>
<path d="M538.3,391.25 L545,391.25"/>
<path d="M554.6,386.25 L551.25,397.5 L558.75,395.8 L555.4,390"/>
<path d="M8.75,553.75 L13.75,549.4 L20,558.1 M19.4,547 L20.4,548.5 M21.6,546.4 L22.6,547.9"/>
<path d="M24.5,547 L24,555 L22.5,558.5 M27,546.9 L27,558.1 L31.25,555"/>
<path d="M36.25,551.25 L38.75,547.5 M38.2,548.75 L43.1,548.75 L40,557.5 L36.25,559.4"/>
<path d="M48.1,547.5 L53.75,547.5 M46.9,551.25 L55,551.25 L53.1,557.5 L50,559.4"/>
<path d="M60.6,548.75 L64.4,551.25 M60.6,559.4 L66.25,556.25 L70,548.75"/>
<path d="M74.4,551.25 L76.25,547.5 M75.8,548.75 L80.6,548.75 L78.1,557.5 L74.4,559.4"/>
</g>
</svg>
</body></html>
